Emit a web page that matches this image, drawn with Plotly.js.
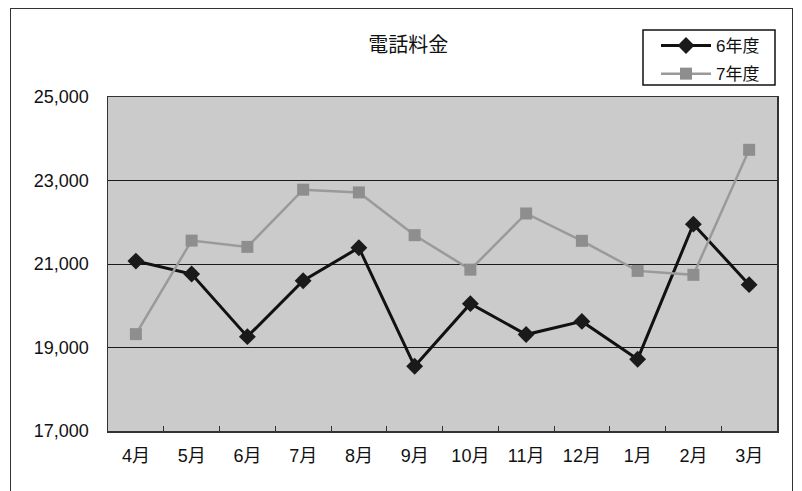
<!DOCTYPE html>
<html>
<head>
<meta charset="utf-8">
<script src="https://cdn.plot.ly/plotly-3.0.1.min.js"></script>
<style>
  html, body { margin: 0; padding: 0; background: #fff; }
  #wrap { position: relative; width: 802px; height: 491px; overflow: hidden; }
  #chart { width: 802px; height: 491px; }
  #frame { position: absolute; left: 10px; top: 8px; width: 781px; height: 520px;
           border: 1.5px solid #333; pointer-events: none; }
</style>
</head>
<body>
<div id="wrap">
  <div id="chart"></div>
  <div id="frame"></div>
</div>
<script>
const months = ["4月","5月","6月","7月","8月","9月","10月","11月","12月","1月","2月","3月"];
const fy6 = [21070, 20760, 19260, 20600, 21390, 18550, 20050, 19310, 19625, 18720, 21955, 20505];
const fy7 = [19320, 21560, 21410, 22780, 22715, 21690, 20865, 22210, 21555, 20835, 20740, 23735];
const seriesNames = ["6年度", "7年度"];
const chartTitle = "電話料金";

const FONT = "Liberation Sans, Arial, 'Noto Sans CJK JP', sans-serif";

const traces = [
  {
    x: months, y: fy6, name: seriesNames[0], type: "scatter", mode: "lines+markers",
    line: { color: "#111111", width: 3 },
    marker: { symbol: "diamond", size: 13, color: "#1a1a1a", line: { width: 0 } },
    legendgroup: "a"
  },
  {
    x: months, y: fy7, name: seriesNames[1], type: "scatter", mode: "lines+markers",
    line: { color: "#9a9a9a", width: 2.5 },
    marker: { symbol: "square", size: 12, color: "#8e8e8e", line: { width: 0 } },
    legendgroup: "b"
  }
];

const layout = {
  width: 802, height: 491,
  margin: { l: 108, r: 25, t: 97, b: 60 },
  paper_bgcolor: "#ffffff",
  plot_bgcolor: "#cbcbcb",
  font: { family: FONT, color: "#111", size: 18 },
  title: {
    text: chartTitle,
    font: { family: FONT, size: 20, color: "#111" },
    x: 0.509, xanchor: "center", xref: "container",
    y: 0.908, yanchor: "middle", yref: "container"
  },
  showlegend: true,
  legend: {
    x: (656 - 108) / 669, xanchor: "left", y: (431 - 28) / 334, yanchor: "top",
    bgcolor: "rgba(0,0,0,0)", borderwidth: 0,
    font: { family: FONT, size: 17, color: "#111" },
    itemwidth: 50,
    traceorder: "grouped", tracegroupgap: 3
  },
  shapes: [
    { type: "rect", xref: "paper", yref: "paper",
      x0: (643 - 108) / 669, x1: (775 - 108) / 669,
      y0: (431 - 85) / 334, y1: (431 - 30) / 334,
      line: { color: "#111", width: 1.5 }, fillcolor: "#ffffff", layer: "below" }
  ],
  xaxis: {
    type: "category",
    range: [-0.5, 11.5],
    autorange: false,
    showgrid: false, zeroline: false,
    showline: true, linecolor: "#333", linewidth: 1.5, mirror: true,
    ticks: "inside", tickson: "boundaries", ticklen: 5, tickcolor: "#333",
    tickfont: { family: FONT, size: 18, color: "#111" },
    ticklabelstandoff: 8
  },
  yaxis: {
    range: [17000, 25000], dtick: 2000, tick0: 17000,
    autorange: false,
    tickformat: ",d",
    showgrid: true, gridcolor: "#1a1a1a", gridwidth: 1,
    zeroline: false,
    showline: true, linecolor: "#333", linewidth: 1.5, mirror: true,
    ticks: "",
    tickfont: { family: FONT, size: 18, color: "#111" },
    ticklabelstandoff: 14
  }
};

Plotly.newPlot("chart", traces, layout, { displayModeBar: false, staticPlot: true });
</script>
</body>
</html>
